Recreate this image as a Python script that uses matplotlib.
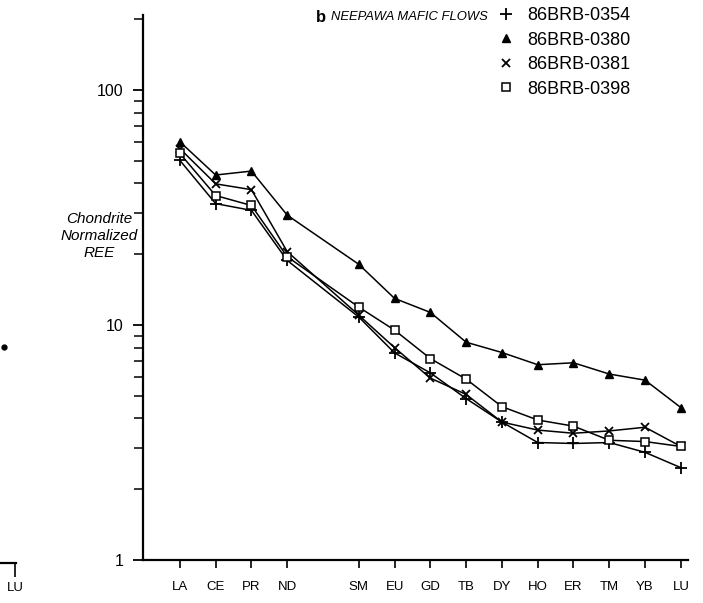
import numpy as np
import matplotlib
matplotlib.use("Agg")
import matplotlib.pyplot as plt
from matplotlib.lines import Line2D

plt.rcParams["font.family"] = ["Liberation Sans", "DejaVu Sans"]

# REE order; PM (index 4) has no data, so it is left as a gap
ree = ["LA", "CE", "PR", "ND", "SM", "EU", "GD", "TB", "DY", "HO", "ER", "TM", "YB", "LU"]
ree_pos = [0, 1, 2, 3, 5, 6, 7, 8, 9, 10, 11, 12, 13, 14]

s0354 = [50.1, 32.8, 30.7, 18.8, 10.8, 7.6, 6.25, 4.86, 3.86, 3.16, 3.13, 3.16, 2.87, 2.47]
s0380 = [60.1, 43.4, 45.1, 29.3, 18.1, 12.96, 11.3, 8.44, 7.63, 6.77, 6.9, 6.18, 5.82, 4.45]
s0381 = [56.2, 39.8, 37.6, 20.5, 11.0, 8.0, 5.94, 5.06, 3.86, 3.57, 3.46, 3.54, 3.67, 3.04]
s0398 = [53.6, 35.5, 32.2, 19.5, 11.9, 9.5, 7.19, 5.88, 4.49, 3.94, 3.71, 3.23, 3.19, 3.04]

labels = ["86BRB-0354", "86BRB-0380", "86BRB-0381", "86BRB-0398"]

# bits of the neighbouring panel (a) that show at the left edge
left_pos = [13.7]
left_val = [8.2]

fig = plt.figure(figsize=(7.03, 6.03), dpi=100)
W, H = 703, 603

# main panel b
ax = fig.add_axes([143 / W, 1 - 560 / H, 545 / W, 545 / H])
ax.set_yscale("log")
ax.set_ylim(1, 208)
ax.set_xlim(-1.03, 14.2)

styles = [
    dict(marker="+", ms=8, mew=1.3),
    dict(marker="^", ms=6, mew=1.0),
    dict(marker="x", ms=6, mew=1.3),
    dict(marker="s", ms=5.5, mew=1.1, mfc="white"),
]
handles = []
for vals, st, lab in zip([s0354, s0380, s0381, s0398], styles, labels):
    ax.plot(ree_pos, vals, color="black", lw=1.1, **st)
    handles.append(Line2D([], [], color="black", ls="none", label=lab, **st))

ax.spines["top"].set_visible(False)
ax.spines["right"].set_visible(False)
ax.spines["left"].set_linewidth(1.6)
ax.spines["bottom"].set_linewidth(1.6)

ax.set_xticks(ree_pos)
ax.set_xticklabels(ree, fontsize=9.5)
ax.tick_params(axis="x", direction="out", length=6, width=1.2, pad=9)
ax.set_yticks([1, 10, 100])
ax.set_yticklabels(["1", "10", "100"], fontsize=11.5)
ax.tick_params(axis="y", which="major", direction="out", length=7.2, width=1.3, pad=7)
ax.tick_params(axis="y", which="minor", direction="out", length=6.5, width=1.1)
ax.yaxis.set_minor_formatter(matplotlib.ticker.NullFormatter())

fig.text(138 / W, 1 - 236 / H, "Chondrite\nNormalized\nREE", ha="right", va="center",
         multialignment="center", style="italic", fontsize=11, linespacing=1.25)

fig.text(316 / W, 1 - 17 / H, "b", fontsize=12, fontweight="bold", va="center")
fig.text(331 / W, 1 - 17 / H, "NEEPAWA MAFIC FLOWS", fontsize=9.4, style="italic", va="center")

fig.legend(handles=handles, loc="upper left", bbox_to_anchor=(496 / W, 1 - 7 / H),
           frameon=False, fontsize=13, handlelength=1.1, handletextpad=0.65,
           labelspacing=0.42, borderpad=0, borderaxespad=0)

# left neighbour remnant
axl = fig.add_axes([0, 1 - 563 / H, 16 / W, 548 / H])
axl.set_yscale("log")
axl.set_ylim(1, 208)
axl.set_xlim(14 - 15 / 36, 14 + 1 / 36)
axl.plot(left_pos, left_val, "o", color="black", ms=3.5)
for s in ["top", "right", "left"]:
    axl.spines[s].set_visible(False)
axl.spines["bottom"].set_linewidth(1.6)
axl.set_yticks([])
axl.minorticks_off()
axl.set_xticks([14])
axl.set_xticklabels(["LU"], fontsize=9.5)
axl.tick_params(axis="x", length=10, width=1.2, pad=4)
axl.patch.set_alpha(0)

fig.savefig("out.png", dpi=100)
